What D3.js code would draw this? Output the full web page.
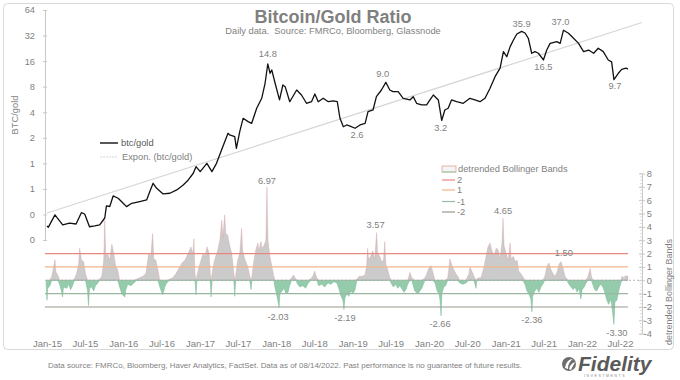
<!DOCTYPE html>
<html><head><meta charset="utf-8">
<script src="https://cdn.jsdelivr.net/npm/d3@7"></script>
<style>
html,body{margin:0;padding:0;background:#fff;}
svg{display:block;font-family:"Liberation Sans",Arial,sans-serif;}
</style></head><body><svg id="c" width="680" height="380"></svg>
<script>
// ---------------- DATA ----------------
const ratioDates = ["2015-01-01","2015-01-07","2015-02-08","2015-03-17","2015-04-19","2015-05-20","2015-06-14","2015-06-30","2015-07-23","2015-08-17","2015-09-10","2015-10-04","2015-10-12","2015-10-28","2015-11-13","2015-12-07","2015-12-31","2016-01-16","2016-02-10","2016-03-19","2016-04-21","2016-05-06","2016-05-22","2016-06-08","2016-07-09","2016-08-10","2016-09-12","2016-10-13","2016-11-06","2016-11-30","2016-12-13","2017-01-02","2017-02-03","2017-02-27","2017-03-21","2017-04-14","2017-05-15","2017-05-23","2017-06-16","2017-06-24","2017-07-10","2017-07-26","2017-08-19","2017-09-05","2017-09-29","2017-10-23","2017-11-08","2017-11-21","2017-12-02","2017-12-10","2017-12-26","2018-01-16","2018-02-01","2018-02-12","2018-03-06","2018-04-08","2018-05-01","2018-05-25","2018-06-18","2018-07-04","2018-07-20","2018-08-13","2018-09-06","2018-09-30","2018-10-19","2018-11-01","2018-11-17","2018-12-03","2018-12-19","2019-01-12","2019-02-05","2019-03-01","2019-03-15","2019-04-08","2019-04-24","2019-05-18","2019-06-08","2019-06-27","2019-07-12","2019-08-06","2019-08-30","2019-10-01","2019-10-17","2019-11-02","2019-11-26","2019-12-20","2020-01-05","2020-01-21","2020-02-14","2020-03-01","2020-03-16","2020-04-01","2020-04-17","2020-05-11","2020-06-12","2020-07-14","2020-08-07","2020-08-31","2020-09-24","2020-10-18","2020-11-11","2020-12-05","2020-12-21","2021-01-06","2021-01-22","2021-02-07","2021-02-23","2021-03-18","2021-04-03","2021-04-19","2021-05-05","2021-05-21","2021-06-06","2021-06-30","2021-07-16","2021-08-01","2021-09-02","2021-09-18","2021-10-04","2021-10-28","2021-11-21","2021-12-15","2022-01-08","2022-02-01","2022-02-25","2022-03-19","2022-04-12","2022-05-06","2022-05-22","2022-06-02","2022-06-23","2022-07-09","2022-07-30","2022-08-08"];
const ratioValues = [0.183,0.176,0.247,0.188,0.197,0.193,0.262,0.253,0.179,0.183,0.188,0.227,0.315,0.31,0.413,0.388,0.338,0.309,0.338,0.354,0.370,0.463,0.582,0.508,0.436,0.444,0.486,0.556,0.637,0.764,0.913,0.798,1.0,0.798,1.0,1.437,2.26,2.16,2.06,1.50,2.36,3.39,3.10,2.96,4.45,5.84,8.77,14.8,11.5,12.6,8.77,5.58,8.37,8.0,5.32,7.31,6.38,5.10,5.32,6.56,5.32,5.84,5.32,5.43,5.32,3.39,2.70,2.83,2.75,2.59,2.83,2.96,4.06,4.25,6.10,7.31,9.0,7.31,6.98,6.98,5.84,5.58,6.10,5.10,4.87,4.87,5.58,6.38,5.58,3.2,4.25,4.45,5.58,5.32,5.10,5.84,5.58,5.32,5.84,7.66,10.5,13.2,20.7,18.0,23.7,28.4,33.4,35.9,34.3,29.7,19.8,20.7,19.8,16.5,21.6,25.9,27.1,25.9,37.0,34.0,29.7,25.9,20.7,21.6,19.8,22.7,20.7,16.5,15.7,9.7,11.5,12.8,13.2,12.9];

const trendDates = ["2015-01-01","2022-10-14"];
const trendValues = [0.26, 45.6];

const bbDates = ["2014-12-28","2015-01-01","2015-01-05","2015-01-15","2015-01-24","2015-02-08","2015-02-13","2015-02-22","2015-03-02","2015-03-11","2015-03-16","2015-03-21","2015-04-05","2015-04-14","2015-04-24","2015-05-03","2015-05-12","2015-05-22","2015-06-01","2015-06-06","2015-06-15","2015-06-25","2015-07-04","2015-07-14","2015-07-18","2015-07-23","2015-08-03","2015-08-12","2015-08-21","2015-09-01","2015-09-10","2015-09-20","2015-09-29","2015-10-04","2015-10-09","2015-10-18","2015-10-27","2015-11-07","2015-11-16","2015-11-26","2015-12-05","2015-12-14","2015-12-24","2016-01-08","2016-01-13","2016-01-22","2016-02-06","2016-02-20","2016-03-05","2016-03-19","2016-04-03","2016-04-17","2016-05-01","2016-05-11","2016-05-20","2016-05-25","2016-06-04","2016-06-14","2016-06-23","2016-07-02","2016-07-07","2016-07-17","2016-07-26","2016-08-10","2016-08-24","2016-09-08","2016-09-22","2016-10-07","2016-10-21","2016-11-05","2016-11-19","2016-11-28","2016-12-03","2016-12-08","2016-12-13","2016-12-17","2016-12-27","2017-01-06","2017-01-16","2017-01-25","2017-02-04","2017-02-14","2017-02-19","2017-02-23","2017-02-28","2017-03-07","2017-03-17","2017-03-26","2017-04-06","2017-04-15","2017-04-20","2017-04-29","2017-05-04","2017-05-13","2017-05-23","2017-06-02","2017-06-12","2017-06-16","2017-06-21","2017-06-30","2017-07-10","2017-07-19","2017-07-24","2017-08-03","2017-08-18","2017-08-27","2017-09-02","2017-09-06","2017-09-16","2017-09-25","2017-10-05","2017-10-09","2017-10-19","2017-10-24","2017-11-03","2017-11-12","2017-11-17","2017-11-22","2017-12-01","2017-12-11","2017-12-20","2017-12-25","2018-01-04","2018-01-14","2018-01-18","2018-01-28","2018-02-07","2018-02-16","2018-02-26","2018-03-05","2018-03-15","2018-03-24","2018-04-04","2018-04-13","2018-04-23","2018-05-07","2018-05-21","2018-05-30","2018-06-14","2018-06-24","2018-07-03","2018-07-13","2018-07-22","2018-08-06","2018-08-20","2018-09-04","2018-09-19","2018-10-03","2018-10-17","2018-10-26","2018-11-06","2018-11-15","2018-11-20","2018-11-25","2018-12-04","2018-12-13","2018-12-23","2019-01-02","2019-01-12","2019-01-21","2019-02-01","2019-02-15","2019-02-28","2019-03-08","2019-03-13","2019-03-18","2019-03-27","2019-04-07","2019-04-16","2019-04-25","2019-04-30","2019-05-10","2019-05-19","2019-05-28","2019-06-03","2019-06-08","2019-06-17","2019-06-27","2019-07-06","2019-07-15","2019-07-25","2019-08-04","2019-08-14","2019-09-03","2019-09-12","2019-09-21","2019-10-01","2019-10-10","2019-10-24","2019-11-09","2019-11-18","2019-11-27","2019-12-12","2019-12-21","2019-12-30","2020-01-10","2020-01-19","2020-01-29","2020-02-08","2020-02-17","2020-02-22","2020-02-27","2020-03-02","2020-03-11","2020-03-20","2020-03-30","2020-04-09","2020-04-19","2020-04-28","2020-05-08","2020-05-17","2020-05-26","2020-06-11","2020-06-25","2020-07-09","2020-07-14","2020-07-23","2020-08-02","2020-08-12","2020-08-16","2020-08-26","2020-09-05","2020-09-19","2020-09-29","2020-10-08","2020-10-18","2020-10-27","2020-11-07","2020-11-16","2020-11-25","2020-12-05","2020-12-14","2020-12-19","2020-12-24","2021-01-03","2021-01-13","2021-01-22","2021-01-27","2021-02-06","2021-02-16","2021-02-25","2021-03-04","2021-03-14","2021-03-23","2021-04-03","2021-04-12","2021-04-21","2021-05-01","2021-05-06","2021-05-10","2021-05-20","2021-05-29","2021-06-09","2021-06-18","2021-06-27","2021-07-07","2021-07-16","2021-07-26","2021-08-05","2021-08-15","2021-08-24","2021-09-03","2021-09-13","2021-09-22","2021-10-02","2021-10-11","2021-10-20","2021-10-30","2021-11-09","2021-11-19","2021-11-28","2021-12-08","2021-12-17","2021-12-26","2022-01-01","2022-01-11","2022-01-20","2022-01-29","2022-02-09","2022-02-14","2022-02-23","2022-03-02","2022-03-12","2022-03-21","2022-04-01","2022-04-10","2022-04-19","2022-04-29","2022-05-08","2022-05-18","2022-05-22","2022-06-02","2022-06-07","2022-06-16","2022-06-25","2022-07-05","2022-07-10","2022-07-19","2022-07-28","2022-08-08"];
const bbValues = [-0.3,-1.5,-0.6,-0.4,0.3,1.55,0.6,0.4,-0.3,-0.8,-1.25,-0.5,-0.6,-0.3,-0.7,-0.4,0.1,0.5,1.2,2.4,1.5,1.4,0.5,-0.8,-1.9,-0.6,-0.5,-0.8,-0.4,-0.2,0.1,0.3,1.5,4.5,1.8,2.0,1.5,2.7,2.0,1.0,0.8,-0.5,-1.0,-1.25,-0.7,-0.3,-0.4,-0.2,0.1,0.2,0.3,0.5,2.0,1.8,3.5,1.6,1.5,0.8,-0.5,-0.9,-1.1,-0.5,-0.2,0.1,0.2,0.5,0.9,1.3,1.5,2.0,2.5,2.0,3.1,0.5,-1.1,0.3,1.0,1.5,2.0,1.8,2.5,2.0,0.5,-1.25,0.5,1.2,1.8,2.2,3.0,4.5,3.2,4.9,3.5,3.4,2.6,2.0,0.5,-1.2,0.4,1.5,2.0,3.9,2.2,1.6,1.0,0.3,-0.7,0.3,1.5,2.3,2.8,2.2,2.9,2.4,2.6,3.0,6.97,3.0,1.8,1.0,0.3,-0.5,-1.2,-2.03,-1.0,-0.8,-0.6,-1.0,-0.9,-0.4,0.2,0.4,0.1,-0.3,-0.5,-0.4,-0.6,-0.3,0.1,0.3,0.7,0.2,-0.4,-0.3,-0.5,-0.2,-0.3,-0.1,-0.2,-0.6,-1.2,-1.5,-2.19,-1.3,-1.0,-1.2,-0.8,-1.0,-0.7,0.1,0.3,0.3,0.4,1.0,2.4,1.5,1.8,2.2,1.6,3.57,2.0,1.8,1.4,1.5,2.9,1.2,0.8,0.2,-0.3,-0.5,-0.3,-0.6,-0.4,-0.9,-0.7,-0.3,0.6,0.2,-0.8,-1.0,-0.8,-0.6,0.2,0.5,0.9,1.1,0.6,-0.2,-0.8,-1.0,-1.5,-2.66,-1.0,-0.5,-0.4,0.2,1.6,1.1,0.8,0.5,0.3,-0.2,-0.3,-0.2,0.5,1.0,0.7,0.3,-0.6,0.1,0.2,0.2,1.0,1.8,2.5,2.8,2.2,1.8,2.4,2.3,1.6,2.8,4.65,2.6,2.0,1.5,2.8,1.6,1.8,1.4,1.5,0.7,0.5,0.3,-0.3,-0.8,-1.0,-1.4,-2.36,-1.2,-0.8,-0.6,-0.9,-0.5,-0.3,0.3,1.0,1.3,0.8,0.5,0.3,0.6,1.2,1.4,0.9,0.3,0.1,-0.3,-0.5,-0.7,-0.5,-0.9,-0.6,-1.4,-0.7,-0.5,-0.2,0.3,0.9,0.3,-0.4,-0.7,-0.8,-0.5,-0.3,-0.5,-0.9,-1.5,-1.8,-1.4,-1.8,-3.30,-1.6,-1.5,-0.8,-0.2,0.3,0.2,0.35,0.3];

const bandLevels = [2, 1, -1, -2];
const bandLabels = ["2", "1", "-1", "-2"];

const leftTickValues = [64, 32, 16, 8, 4, 2, 1, 0.5, 0.25, 0.125];
const leftTickLabels = ["64", "32", "16", "8", "4", "2", "1", "1", "0", "0"];
const rightTickValues = [8, 7, 6, 5, 4, 3, 2, 1, 0, -1, -2, -3, -4];
const rightTickLabels = ["8", "7", "6", "5", "4", "3", "2", "1", "0", "-1", "-2", "-3", "-4"];
const xTickDates = ["2015-01-01","2015-07-01","2016-01-01","2016-07-01","2017-01-01","2017-07-01","2018-01-01","2018-07-01","2019-01-01","2019-07-01","2020-01-01","2020-07-01","2021-01-01","2021-07-01","2022-01-01","2022-07-01"];
const xTickLabels = ["Jan-15","Jul-15","Jan-16","Jul-16","Jan-17","Jul-17","Jan-18","Jul-18","Jan-19","Jul-19","Jan-20","Jul-20","Jan-21","Jul-21","Jan-22","Jul-22"];

const ratioNoteLabels = ["14.8", "9.0", "35.9", "37.0", "16.5", "9.7", "2.6", "3.2"];
const ratioNoteDates = ["2017-11-21", "2019-06-08", "2021-03-18", "2021-10-04", "2021-06-30", "2022-06-02", "2019-01-12", "2020-03-01"];
const ratioNoteValues = [14.8, 9.0, 35.9, 37.0, 16.5, 9.7, 2.6, 3.2];
const bbNoteLabels = ["6.97", "3.57", "4.65", "1.50", "-2.03", "-2.19", "-2.66", "-2.36", "-3.30"];
const bbNoteDates = ["2017-11-17", "2019-04-25", "2020-12-19", "2021-10-06", "2018-01-14", "2018-11-20", "2020-02-27", "2021-05-06", "2022-06-02"];
const bbNoteValues = [6.97, 3.57, 4.65, 2.0, -2.03, -2.19, -2.66, -2.36, -3.30];

// ---------------- CHART ----------------
const parse = d3.utcParse("%Y-%m-%d");
const svg = d3.select("#c");
const grey = "#7f7f7f";
const fs = "9.3px";

const x = d3.scaleUtc().domain([parse("2015-01-01"), parse("2022-07-01")]).range([47, 620]);
const yL = d3.scaleLog().base(2).domain([0.125, 64]).range([240, 10]);
const yR = d3.scaleLinear().domain([-4, 8]).range([333.7, 173.5]);

const ratio = ratioDates.map((d, i) => ({ date: parse(d), v: ratioValues[i] }));
const trend = trendDates.map((d, i) => ({ date: parse(d), v: trendValues[i] }));
const bb = bbDates.map((d, i) => ({ date: parse(d), v: bbValues[i] }));

// frame
svg.append("rect").attr("x", 3.5).attr("y", 3.5).attr("width", 670).attr("height", 346)
  .attr("rx", 4).attr("fill", "none").attr("stroke", "#d9d9d9");

// title
svg.append("text").attr("x", 333).attr("y", 23).attr("text-anchor", "middle")
  .attr("font-size", "18px").attr("font-weight", "bold").attr("fill", "#808080").text("Bitcoin/Gold Ratio");
svg.append("text").attr("x", 333).attr("y", 34).attr("text-anchor", "middle").style("white-space", "pre")
  .attr("font-size", fs).attr("fill", grey).text("Daily data.  Source: FMRCo, Bloomberg, Glassnode");

// Bollinger bars (areas)
const y0 = yR(0);
svg.append("path").datum(bb)
  .attr("d", d3.area().x(d => x(d.date)).y0(y0).y1(d => yR(Math.max(0, d.v))))
  .attr("fill", "#cbcbcb").attr("stroke", "#dca3a3").attr("stroke-width", 0.5).attr("stroke-opacity", 0.8);
svg.append("path").datum(bb)
  .attr("d", d3.area().x(d => x(d.date)).y0(y0).y1(d => yR(Math.min(0, d.v))))
  .attr("fill", "#93cbab").attr("stroke", "#79bb96").attr("stroke-width", 0.5);

// band lines
const bandColors = ["#e8877f", "#f2b48a", "#9bb79f", "#9a9a8e"];
bandLevels.forEach((b, i) => {
  svg.append("line").attr("x1", 45).attr("x2", 628).attr("y1", yR(b)).attr("y2", yR(b))
    .attr("stroke", bandColors[i]).attr("stroke-width", 1.2);
});
svg.append("line").attr("x1", 45).attr("x2", 642).attr("y1", y0).attr("y2", y0)
  .attr("stroke", "#a6a6a6").attr("stroke-width", 0.8).attr("stroke-dasharray", "2,2");

// trend line
svg.append("path").datum(trend)
  .attr("d", d3.line().x(d => x(d.date)).y(d => yL(d.v)))
  .attr("fill", "none").attr("stroke", "#d6d6d6").attr("stroke-width", 1.2);

// ratio line
svg.append("path").datum(ratio)
  .attr("d", d3.line().x(d => x(d.date)).y(d => yL(d.v)))
  .attr("fill", "none").attr("stroke", "#111").attr("stroke-width", 1.3).attr("stroke-linejoin", "round");

// annotations
const ratioDy = [-10, -9, -8, -9, 7, 6, 7, 7];
const ratioDx = [0, -3, 0, -3, 0, 1, 2, -1];
ratioNoteLabels.forEach((t, i) => {
  svg.append("text").attr("x", x(parse(ratioNoteDates[i])) + ratioDx[i])
    .attr("y", yL(ratioNoteValues[i]) + ratioDy[i] + 3.3)
    .attr("text-anchor", "middle").attr("font-size", fs).attr("fill", grey).text(t);
});
const bbDy = [-7, -7.5, -7.5, -1, 9, 8, 8, 8, 8];
const bbDx = [0, -1, 0, 0, -1, 1, -1, 0, 3];
bbNoteLabels.forEach((t, i) => {
  svg.append("text").attr("x", x(parse(bbNoteDates[i])) + bbDx[i])
    .attr("y", yR(bbNoteValues[i]) + bbDy[i] + 3.3)
    .attr("text-anchor", "middle").attr("font-size", fs).attr("fill", grey).text(t);
});

// left axis
const gL = svg.append("g").attr("transform", "translate(45,0)")
  .call(d3.axisLeft(yL).tickValues(leftTickValues).tickFormat((d, i) => leftTickLabels[i])
    .tickSizeInner(3).tickSizeOuter(0).tickPadding(7));
gL.select(".domain").attr("stroke", "#c8c8c8");
gL.selectAll(".tick line").attr("x1", -2).attr("x2", 2).attr("stroke", "#c8c8c8");
gL.selectAll(".tick text").attr("font-size", fs).attr("fill", grey).attr("font-family", null);

// right axis
const gR = svg.append("g").attr("transform", "translate(642,0)")
  .call(d3.axisRight(yR).tickValues(rightTickValues).tickFormat((d, i) => rightTickLabels[i])
    .tickSizeInner(3).tickSizeOuter(0).tickPadding(2));
gR.select(".domain").attr("stroke", "#c8c8c8");
gR.selectAll(".tick line").attr("x1", -3).attr("x2", 3).attr("stroke", "#c8c8c8");
gR.selectAll(".tick text").attr("font-size", fs).attr("fill", grey).attr("text-anchor", "end").attr("x", 10).attr("font-family", null);
gR.selectAll(".minor").data(d3.range(-4, 8.001, 0.25)).enter().append("line").attr("class", "minor")
  .attr("x1", -2).attr("x2", 1).attr("y1", d => yR(d)).attr("y2", d => yR(d)).attr("stroke", "#cfcfcf").attr("stroke-width", 0.7);

// x axis
const gX = svg.append("g").attr("transform", "translate(0,337)")
  .call(d3.axisBottom(x).tickValues(xTickDates.map(parse)).tickFormat((d, i) => xTickLabels[i])
    .tickSize(0).tickPadding(3.5));
gX.select(".domain").remove();
gX.selectAll(".tick text").attr("font-size", "9.5px").attr("fill", grey).attr("font-family", null);

// axis titles
svg.append("text").attr("transform", "translate(18,115) rotate(-90)").attr("text-anchor", "middle")
  .attr("font-size", fs).attr("fill", grey).text("BTC/gold");
svg.append("text").attr("transform", "translate(672,292) rotate(-90)").attr("text-anchor", "middle")
  .attr("font-size", "9px").attr("fill", grey).text("detrended Bollinger Bands");

// legend (ratio)
svg.append("line").attr("x1", 100).attr("x2", 118).attr("y1", 143).attr("y2", 143).attr("stroke", "#111").attr("stroke-width", 1.4);
svg.append("text").attr("x", 121).attr("y", 146.3).attr("font-size", fs).attr("fill", "#595959").text("btc/gold");
svg.append("line").attr("x1", 100).attr("x2", 118).attr("y1", 157).attr("y2", 157).attr("stroke", "#d6d6d6").attr("stroke-width", 1.2).attr("stroke-dasharray", "2,1");
svg.append("text").attr("x", 122).attr("y", 160.3).attr("font-size", fs).attr("fill", grey).text("Expon. (btc/gold)");

// legend (bollinger)
svg.append("rect").attr("x", 442).attr("y", 166).attr("width", 14).attr("height", 6)
  .attr("fill", "#f4f4f4").attr("stroke", "#e3a09a").attr("stroke-width", 0.8);
svg.append("line").attr("x1", 442).attr("x2", 456).attr("y1", 172).attr("y2", 172).attr("stroke", "#93cbab").attr("stroke-width", 1);
svg.append("text").attr("x", 458).attr("y", 172.3).attr("font-size", fs).attr("fill", grey).text("detrended Bollinger Bands");
const legY = [180, 190, 201.5, 212];
bandLabels.forEach((t, i) => {
  svg.append("line").attr("x1", 442).attr("x2", 455).attr("y1", legY[i]).attr("y2", legY[i]).attr("stroke", bandColors[i]).attr("stroke-width", 1.2);
  svg.append("text").attr("x", 457).attr("y", legY[i] + 3.3).attr("font-size", fs).attr("fill", grey).text(t);
});

// footer
svg.append("text").attr("x", 48).attr("y", 368).attr("font-size", "7.95px").attr("fill", grey)
  .text("Data source: FMRCo, Bloomberg, Haver Analytics, FactSet. Data as of 08/14/2022. Past performance is no guarantee of future results.");

// Fidelity logo
const logo = svg.append("g");
logo.append("circle").attr("cx", 569).attr("cy", 364).attr("r", 7).attr("fill", "#6e6e6e");
logo.append("path").attr("d", "M565,368 C566,362 569,359 573,359 C570,361 568,364 568,369 Z").attr("fill", "#fff");
logo.append("path").attr("d", "M569,369 C570,365 572,363 575,362 C574,365 572,367 571,370 Z").attr("fill", "#fff");
logo.append("text").attr("x", 578).attr("y", 371).attr("font-size", "21px").attr("font-weight", "bold")
  .attr("font-style", "italic").attr("fill", "#5a5a5a").text("Fidelity");
logo.append("text").attr("x", 584).attr("y", 376.5).attr("font-size", "3.6px").attr("letter-spacing", "1.5px")
  .attr("fill", "#8a8a8a").text("INVESTMENTS");
</script></body></html>
